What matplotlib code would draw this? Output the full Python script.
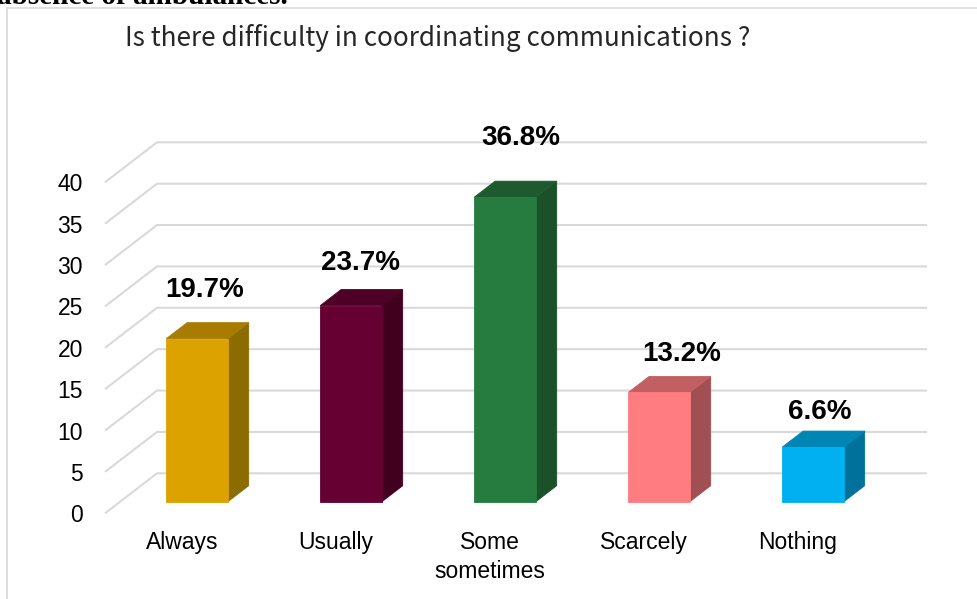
import matplotlib
matplotlib.use("Agg")
import matplotlib.pyplot as plt
from matplotlib.patches import Polygon
from matplotlib.lines import Line2D

# Survey answers (percent of respondents)
categories = ["Always", "Usually", "Some\nsometimes", "Scarcely", "Nothing"]
percentages = [19.7, 23.7, 36.8, 13.2, 6.6]
y_ticks = [0, 5, 10, 15, 20, 25, 30, 35, 40]

# Face colours of each box: front, right side, top
front_colors = ["#DBA200", "#660033", "#267C3F", "#FF7C80", "#00B0F0"]
side_colors = ["#8C6C00", "#42001F", "#1B5028", "#A05052", "#00719A"]
top_colors = ["#A87C00", "#4E0027", "#1D5B2E", "#C25F62", "#0086B5"]

# Nudges for the value labels (category units, value units)
label_dx = [0.146, 0.159, 0.201, 0.247, 0.141]
label_dy = [7.3, 6.5, 8.6, 6.1, 5.7]

W, H = 978, 599
fig = plt.figure(figsize=(W / 100, H / 100), dpi=100)
fig.patch.set_facecolor("white")

ax = fig.add_axes([105 / W, 1 - 513.3 / H, 770 / W, 331 / H])
ax.set_xlim(0, len(categories))
ax.set_ylim(0, 40)
ax.set_facecolor("none")
for s in ax.spines.values():
    s.set_visible(False)

# Oblique projection of the depth axis
DX, DY = 0.3377, 4.834      # full floor depth
F0, F1 = 0.29, 0.69          # front / back of the boxes along the depth
half_w = 0.2

grid_c = "#d9d9d9"
xmax = len(categories)
for v in y_ticks:
    ax.plot([0, DX, xmax + DX], [v, v + DY, v + DY], color=grid_c, lw=1.5,
            clip_on=False, zorder=1, solid_capstyle="butt")

ddx, ddy = (F1 - F0) * DX, (F1 - F0) * DY
for i, v in enumerate(percentages):
    c = i + 0.5
    x0 = c - half_w + F0 * DX
    x1 = c + half_w + F0 * DX
    y0 = F0 * DY
    yt = v + y0
    front = [(x0, y0), (x1, y0), (x1, yt), (x0, yt)]
    side = [(x1, y0), (x1 + ddx, y0 + ddy), (x1 + ddx, yt + ddy), (x1, yt)]
    top = [(x0, yt), (x1, yt), (x1 + ddx, yt + ddy), (x0 + ddx, yt + ddy)]
    for pts, col in ((side, side_colors[i]), (top, top_colors[i]), (front, front_colors[i])):
        ax.add_patch(Polygon(pts, closed=True, facecolor=col, edgecolor=col,
                             lw=0.6, clip_on=False, zorder=3))
    ax.text(c + label_dx[i], v + label_dy[i], f"{v}%", ha="center", va="center",
            fontsize=20, fontweight="bold", family="Liberation Sans",
            color="black", zorder=4, clip_on=False)

ax.set_yticks(y_ticks)
ax.set_yticklabels([str(t) for t in y_ticks], family="Liberation Sans", fontsize=16.5)
ax.set_xticks([i + 0.5 for i in range(len(categories))])
ax.set_xticklabels(categories, family="Liberation Sans", fontsize=16.5,
                   linespacing=1.32)
ax.tick_params(axis="y", length=0, pad=22 * 0.72, colors="black")
ax.tick_params(axis="x", length=0, pad=18 * 0.72, colors="black")

# Chart title
fig.text(125 / W, 1 - 38 / H, "Is there difficulty in coordinating communications ?",
         ha="left", va="center", fontsize=18.8, color="#262626",
         family=["Noto Sans CJK JP", "DejaVu Sans"])

# Chart frame
fig.add_artist(Line2D([7.5 / W, 1], [1 - 7.5 / H, 1 - 7.5 / H], color=grid_c, lw=1.2,
                      transform=fig.transFigure))
fig.add_artist(Line2D([7.5 / W, 7.5 / W], [1 - 7.5 / H, 0], color=grid_c, lw=1.2,
                      transform=fig.transFigure))

# Tail of the preceding caption line
fig.text(-3 / W, 1 - 3.5 / H, "absence of ambulances.", ha="left", va="baseline",
         fontsize=21, fontweight="bold", family="Liberation Serif", color="black")

fig.savefig("out.png", dpi=100, facecolor="white")
